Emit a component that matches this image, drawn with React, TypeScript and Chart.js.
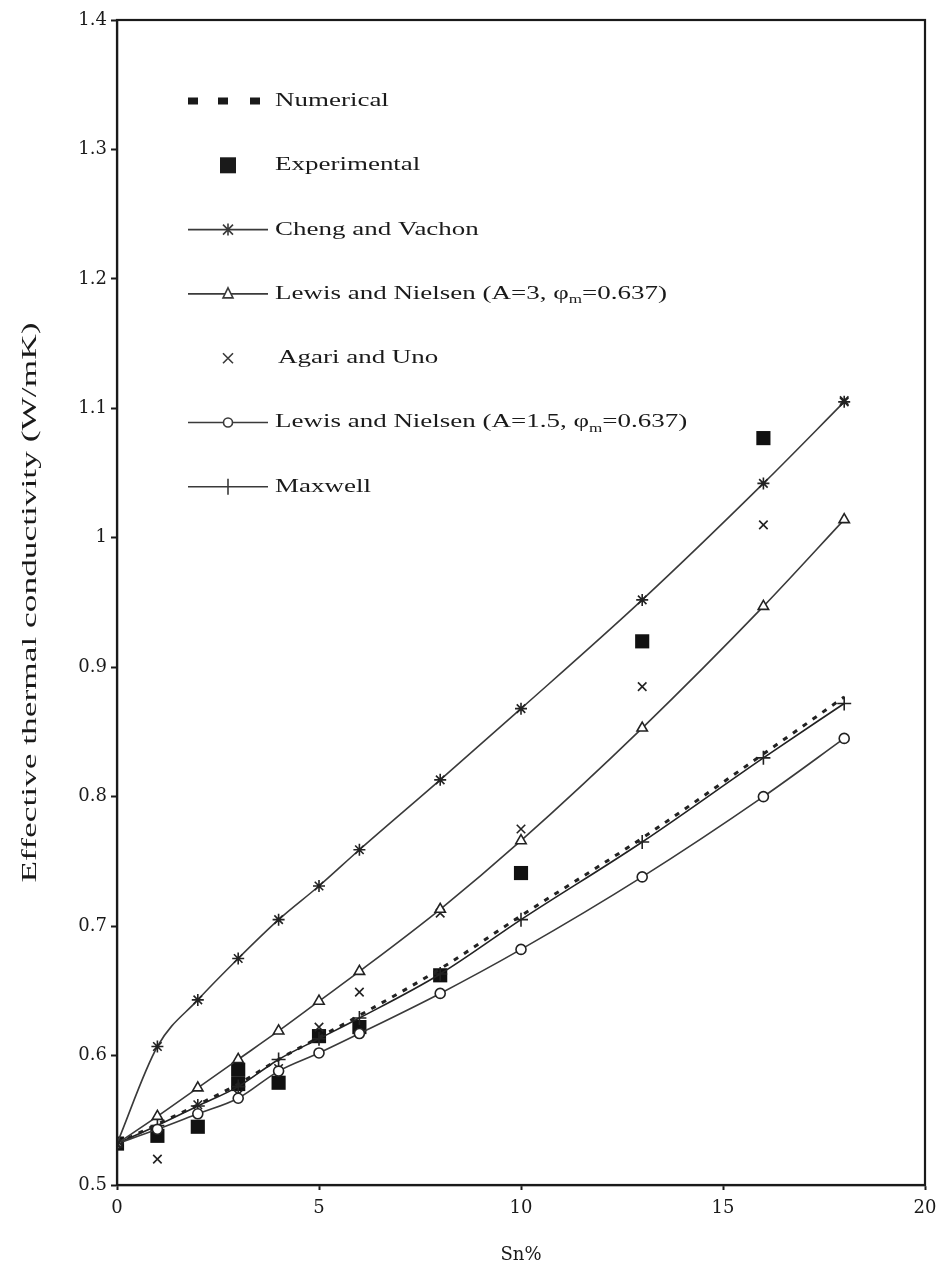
import React, { useEffect, useRef } from "react";
import { Chart, registerables } from "chart.js";

Chart.register(...registerables);

const xValues = [0, 1, 2, 3, 4, 5, 6, 8, 10, 13, 16, 18];
const numerical = [0.532, 0.547, 0.562, 0.578, 0.597, 0.614, 0.631, 0.667, 0.708, 0.768, 0.833, 0.877];
const chengVachon = [0.532, 0.607, 0.643, 0.675, 0.705, 0.731, 0.759, 0.813, 0.868, 0.952, 1.042, 1.105];
const lewis3 = [0.532, 0.553, 0.575, 0.597, 0.619, 0.642, 0.665, 0.713, 0.766, 0.853, 0.947, 1.014];
const lewis15 = [0.532, 0.543, 0.555, 0.567, 0.588, 0.602, 0.617, 0.648, 0.682, 0.738, 0.800, 0.845];
const maxwell = [0.532, 0.546, 0.561, 0.576, 0.597, 0.613, 0.629, 0.663, 0.705, 0.765, 0.830, 0.872];
const agariX = [1, 2, 3, 4, 5, 6, 8, 10, 13, 16, 18];
const agariUno = [0.52, 0.562, 0.57, 0.59, 0.622, 0.649, 0.71, 0.775, 0.885, 1.01, 1.106];
const expX = [0, 1, 2, 3, 3, 4, 5, 6, 8, 10, 13, 16];
const experimental = [0.532, 0.538, 0.545, 0.578, 0.589, 0.579, 0.615, 0.622, 0.662, 0.741, 0.92, 1.077];
const xTicks = [0, 5, 10, 15, 20];
const yTicks = [0.5, 0.6, 0.7, 0.8, 0.9, 1.0, 1.1, 1.2, 1.3, 1.4];

const xTitle = "Sn%";
const yTitle = "Effective thermal conductivity (W/mK)";
const legendLabels = [
  "Numerical",
  "Experimental",
  "Cheng and Vachon",
  "Lewis and Nielsen (A=3, φ|m|=0.637)",
  "Agari and Uno",
  "Lewis and Nielsen (A=1.5, φ|m|=0.637)",
  "Maxwell",
];

const SERIF = "'Liberation Serif', 'Times New Roman', serif";
const TICKFONT = "'DejaVu Serif', serif";
const LINE = "#3a3a3a";
const INK = "#1a1a1a";

const pts = (xs: number[], ys: number[]) => xs.map((x, i) => ({ x, y: ys[i] }));

const frameAndLegend = {
  id: "frameAndLegend",
  afterDatasetsDraw(chart: any) {
    const { ctx, chartArea } = chart;
    const { left, top, right, bottom } = chartArea;
    ctx.save();
    // frame
    ctx.strokeStyle = INK;
    ctx.lineWidth = 2.2;
    ctx.strokeRect(left, top, right - left, bottom - top);

    // y-axis title
    ctx.save();
    ctx.translate(30, (top + bottom) / 2);
    ctx.rotate(-Math.PI / 2);
    ctx.font = `22px ${SERIF}`;
    const w = ctx.measureText(yTitle).width;
    ctx.scale(560 / w, 1);
    ctx.textAlign = "center";
    ctx.textBaseline = "middle";
    ctx.fillStyle = INK;
    ctx.fillText(yTitle, 0, 0);
    ctx.restore();

    // legend
    const sx0 = left + 71;
    const sx1 = left + 151;
    const mx = left + 111;
    const tx = left + 158;
    const rowTop = top + 81;
    const rowGap = 64.3;
    const stretch = 1.42;
    ctx.textBaseline = "middle";
    legendLabels.forEach((label, i) => {
      const y = rowTop + i * rowGap;
      ctx.strokeStyle = LINE;
      ctx.fillStyle = INK;
      ctx.lineWidth = 1.6;
      if (i === 0) {
        [left + 76, left + 106, left + 138].forEach((cx) => ctx.fillRect(cx - 5, y - 3.5, 10, 7));
      } else if (i === 1) {
        ctx.fillRect(mx - 8, y - 8, 16, 16);
      } else if (i === 4) {
        ctx.beginPath();
        ctx.moveTo(mx - 5, y - 5);
        ctx.lineTo(mx + 5, y + 5);
        ctx.moveTo(mx + 5, y - 5);
        ctx.lineTo(mx - 5, y + 5);
        ctx.stroke();
      } else {
        ctx.beginPath();
        ctx.moveTo(sx0, y);
        ctx.lineTo(sx1, y);
        ctx.stroke();
        ctx.beginPath();
        if (i === 2) {
          ctx.moveTo(mx - 5, y - 5); ctx.lineTo(mx + 5, y + 5);
          ctx.moveTo(mx + 5, y - 5); ctx.lineTo(mx - 5, y + 5);
          ctx.moveTo(mx, y - 6); ctx.lineTo(mx, y + 6);
          ctx.stroke();
        } else if (i === 3) {
          ctx.moveTo(mx, y - 6); ctx.lineTo(mx + 5, y + 4); ctx.lineTo(mx - 5, y + 4); ctx.closePath();
          ctx.fillStyle = "#fff"; ctx.fill(); ctx.stroke();
        } else if (i === 5) {
          ctx.arc(mx, y, 4.5, 0, Math.PI * 2);
          ctx.fillStyle = "#fff"; ctx.fill(); ctx.stroke();
        } else if (i === 6) {
          ctx.moveTo(mx, y - 8); ctx.lineTo(mx, y + 8);
          ctx.stroke();
        }
      }
      ctx.fillStyle = INK;
      const parts = label.split("|");
      ctx.save();
      ctx.translate(i === 4 ? tx + 3 : tx, y);
      ctx.scale(stretch, 1);
      let x = 0;
      parts.forEach((p, k) => {
        if (k === 1) {
          ctx.font = `12px ${SERIF}`;
          ctx.fillText(p, x, 6);
        } else {
          ctx.font = `19px ${SERIF}`;
          ctx.fillText(p, x, 0);
        }
        x += ctx.measureText(p).width;
      });
      ctx.restore();
    });
    ctx.restore();
  },
};

export default function App() {
  const ref = useRef<HTMLCanvasElement | null>(null);
  useEffect(() => {
    if (!ref.current) return;
    const lineDs = (label: string, ys: number[], style: string, radius: number, extra: any = {}) => ({
      label,
      data: pts(xValues, ys),
      borderColor: LINE,
      borderWidth: 1.6,
      pointStyle: style,
      pointRadius: radius,
      pointBorderColor: "#222",
      pointBackgroundColor: "#fff",
      pointBorderWidth: 1.6,
      showLine: true,
      cubicInterpolationMode: "monotone",
      ...extra,
    });
    const chart = new Chart(ref.current, {
      type: "scatter",
      data: {
        datasets: [
          lineDs("Cheng and Vachon", chengVachon, "star", 6),
          lineDs("Lewis and Nielsen (A=3)", lewis3, "triangle", 6),
          lineDs("Lewis and Nielsen (A=1.5)", lewis15, "circle", 5),
          lineDs("Maxwell", maxwell, "cross", 7, { borderColor: "#222" }),
          {
            label: "Numerical",
            data: pts(xValues, numerical),
            showLine: true,
            borderColor: "#222",
            borderWidth: 3,
            borderDash: [5, 7],
            pointRadius: 0,
            cubicInterpolationMode: "monotone",
          },
          {
            label: "Agari and Uno",
            data: pts(agariX, agariUno),
            showLine: false,
            pointStyle: "crossRot",
            pointRadius: 6,
            pointBorderColor: "#222",
            pointBorderWidth: 1.6,
          },
          {
            label: "Experimental",
            data: pts(expX, experimental),
            showLine: false,
            pointStyle: "rect",
            pointRadius: 10,
            pointBackgroundColor: "#111",
            pointBorderColor: "#111",
            pointBorderWidth: 0,
          },
        ],
      },
      options: {
        animation: false,
        responsive: false,
        events: [],
        layout: { padding: { top: 20, right: 11, left: 0, bottom: 0 } },
        plugins: { legend: { display: false }, tooltip: { enabled: false } },
        scales: {
          x: {
            type: "linear",
            min: 0,
            max: 20,
            afterBuildTicks: (s: any) => { s.ticks = xTicks.map((v) => ({ value: v })); },
            afterFit: (s: any) => { s.height = 92; s.paddingLeft = 0; s.paddingRight = 0; },
            grid: { drawOnChartArea: false, drawTicks: true, tickLength: 5, tickColor: INK, tickWidth: 2 },
            border: { display: true, color: INK, width: 2.2 },
            ticks: { color: INK, font: { family: TICKFONT, size: 18 }, padding: 8, callback: (v: any) => String(v) },
            title: { display: true, text: xTitle, color: INK, font: { family: TICKFONT, size: 18 }, padding: { top: 0, bottom: 11 } },
          },
          y: {
            type: "linear",
            min: 0.5,
            max: 1.4,
            afterBuildTicks: (s: any) => { s.ticks = yTicks.map((v) => ({ value: v })); },
            afterFit: (s: any) => { s.width = 117; },
            grid: { drawOnChartArea: false, drawTicks: true, tickLength: 6, tickColor: INK, tickWidth: 2 },
            border: { display: true, color: INK, width: 2.2 },
            ticks: {
              color: INK,
              font: { family: TICKFONT, size: 18 },
              padding: 4,
              callback: (v: any) => String(Math.round(Number(v) * 10) / 10),
            },
            title: { display: false },
          },
        },
      },
      plugins: [frameAndLegend],
    } as any);
    return () => chart.destroy();
  }, []);
  return (
    <div style={{ position: "fixed", left: 0, top: 0, width: 936, height: 1277, background: "#fff" }}>
      <canvas ref={ref} width={936} height={1277} style={{ width: 936, height: 1277, display: "block" }} />
    </div>
  );
}
